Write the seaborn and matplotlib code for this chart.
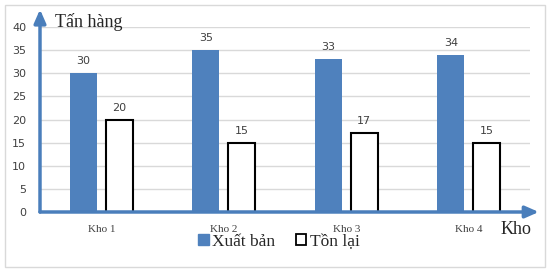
import matplotlib
matplotlib.use("Agg")
import matplotlib.pyplot as plt
import seaborn as sns
import pandas as pd
from matplotlib.patches import Rectangle, Patch

categories = ["Kho 1", "Kho 2", "Kho 3", "Kho 4"]
xuat_ban = [30, 35, 33, 34]
ton_lai = [20, 15, 17, 15]
series_names = ["Xuất bản", "Tồn lại"]
yticks = [0, 5, 10, 15, 20, 25, 30, 35, 40]

df = pd.DataFrame({
    "Kho": categories * 2,
    "value": xuat_ban + ton_lai,
    "series": [series_names[0]] * 4 + [series_names[1]] * 4,
})

sns.set_style("white")
plt.rcParams["font.family"] = ["Liberation Serif", "DejaVu Serif"]

blue = "#4F81BD"
axis_blue = "#4A7EBB"

fig = plt.figure(figsize=(5.5, 2.71), dpi=100)
ax = fig.add_axes([40/550, 1-212/271, 490/550, 185/271])

sns.barplot(data=df, x="Kho", y="value", hue="series", ax=ax,
            palette=[blue, "white"], width=0.58, gap=0.24, legend=False,
            order=categories, hue_order=series_names, saturation=1)

for cont, name in zip(ax.containers, series_names):
    for bar in cont:
        if name == series_names[1]:
            bar.set_edgecolor("black")
            bar.set_linewidth(1.5)
        else:
            bar.set_edgecolor("none")
    ax.bar_label(cont, padding=5, fontsize=8, color="#404040",
                 family="DejaVu Sans")

ax.set_xlim(-0.5, 3.5)
ax.set_ylim(0, 40)
ax.set_yticks(yticks)
ax.set_yticklabels([str(t) for t in yticks], fontsize=8, color="#404040",
                   family="DejaVu Sans")
ax.yaxis.grid(True, color="#D9D9D9", linewidth=1)
ax.set_axisbelow(True)
ax.tick_params(axis="y", length=0, pad=10)
ax.tick_params(axis="x", length=0, pad=9, labelsize=8, colors="#404040")
ax.set_xticks([-0.5, 0.5, 1.5, 2.5, 3.5], minor=True)
ax.tick_params(axis="x", which="minor", length=4, color="#D0D0D0", width=1)
ax.set_xlabel("")
ax.set_ylabel("")
for s in ax.spines.values():
    s.set_visible(False)

ax.annotate("", xy=(0, 1.095), xytext=(0, 0), xycoords="axes fraction",
            arrowprops=dict(arrowstyle="-|>,head_width=0.35,head_length=0.8",
                            color=axis_blue, lw=2.5, shrinkA=0, shrinkB=0),
            annotation_clip=False)
ax.annotate("", xy=(1.018, 0), xytext=(0, 0), xycoords="axes fraction",
            arrowprops=dict(arrowstyle="-|>,head_width=0.35,head_length=0.8",
                            color=axis_blue, lw=2.5, shrinkA=0, shrinkB=0),
            annotation_clip=False)

fig.text(55/550, 1-22/271, "Tấn hàng", fontsize=13, va="center", ha="left")
fig.text(501/550, 1-230/271, "Kho", fontsize=13, va="center", ha="left")

handles = [Patch(facecolor=blue, edgecolor=blue),
           Patch(facecolor="white", edgecolor="black", linewidth=1.3)]
fig.legend(handles, series_names, loc="center", bbox_to_anchor=(279/550, 1-242/271),
           ncol=2, frameon=False, fontsize=12.5, handlelength=0.6, handleheight=0.6,
           handletextpad=0.2, columnspacing=1.2)

fig.patches.append(Rectangle((5/550, 4/271), 540/550, 262/271, transform=fig.transFigure,
                             facecolor="none", edgecolor="#D9D9D9", linewidth=1))

fig.savefig("out.png", dpi=100, facecolor="white")
